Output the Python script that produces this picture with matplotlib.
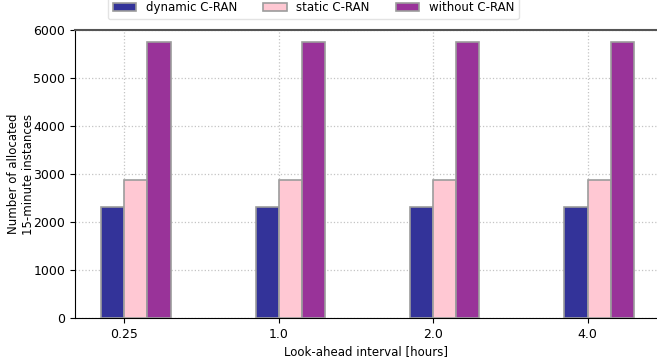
import matplotlib.pyplot as plt
import numpy as np

intervals = ["0.25", "1.0", "2.0", "4.0"]
dynamic_cran = [2304, 2304, 2304, 2304]
static_cran = [2880, 2880, 2880, 2880]
without_cran = [5760, 5760, 5760, 5760]

series = [
    ("dynamic C-RAN", dynamic_cran, "#333399"),
    ("static C-RAN", static_cran, "#ffc8d3"),
    ("without C-RAN", without_cran, "#993399"),
]

plt.rcParams["font.size"] = 9

fig = plt.figure(figsize=(6.57, 3.63), dpi=100)
ax = fig.add_axes([0.114, 0.124, 0.886, 0.793])

x = np.arange(len(intervals))
width = 0.15
for i, (label, values, color) in enumerate(series):
    ax.bar(x + (i - 1) * width, values, width, align="edge", color=color,
           edgecolor="#9c9c9c", linewidth=1.2, label=label, zorder=3)

ax.set_xticks(x)
ax.set_xticklabels(intervals)
ax.set_xlim(-0.32, 3.45)
ax.set_ylim(0, 6000)
ax.set_yticks(range(0, 6001, 1000))
ax.grid(True, linestyle=":", color="#c4c4c4", linewidth=0.9, zorder=0)
ax.spines["right"].set_visible(False)
ax.spines["top"].set_color("#555555")
ax.spines["top"].set_linewidth(1.5)

ax.set_xlabel("Look-ahead interval [hours]", fontsize=8.5, labelpad=3)
ax.set_ylabel("Number of allocated\n15-minute instances", fontsize=8.5)
ax.yaxis.set_label_coords(-0.069, 0.5)

fig.legend(loc="lower center", bbox_to_anchor=(0.477, 0.948), ncol=3,
           borderaxespad=0, frameon=True, edgecolor="#dddddd", fontsize=8.5,
           columnspacing=2.2)

fig.savefig("out.png", dpi=100)
